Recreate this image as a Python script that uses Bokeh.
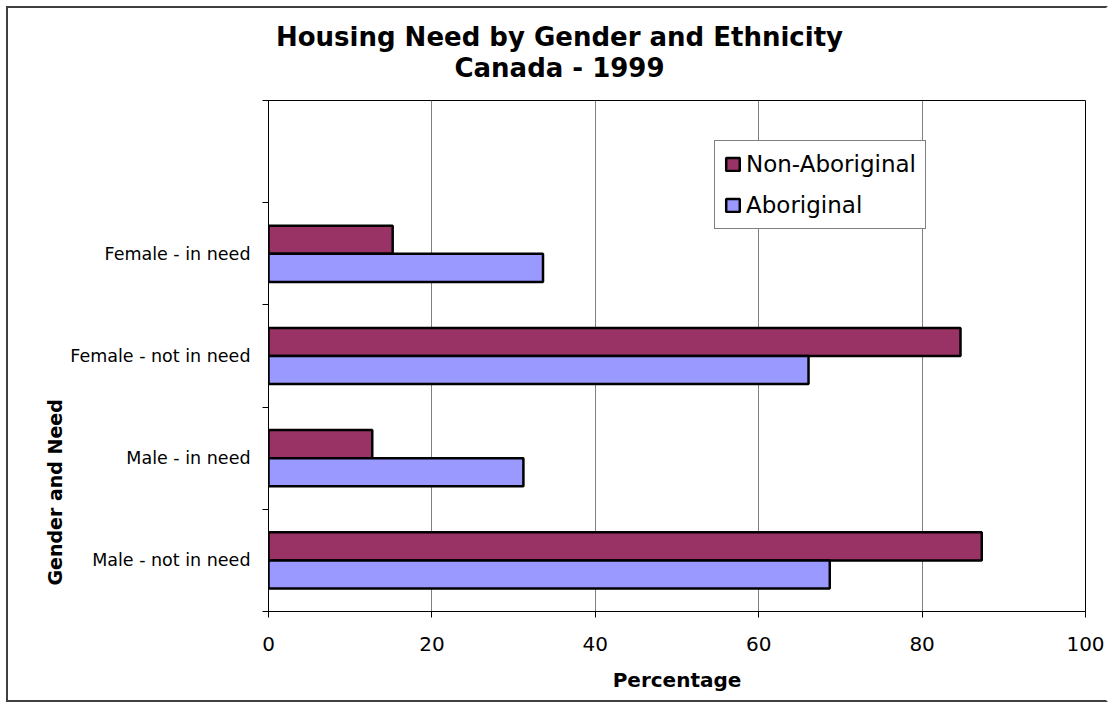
from bokeh.plotting import figure
from bokeh.layouts import column
from bokeh.models import (ColumnDataSource, FixedTicker, Label, Legend, LegendItem, Range1d, Title)
from bokeh.embed import file_html
from bokeh.resources import INLINE

# ---- data ----
categories = ["Male - not in need", "Male - in need", "Female - not in need", "Female - in need"]
aboriginal = [68.7, 31.2, 66.1, 33.6]
non_aboriginal = [87.3, 12.7, 84.7, 15.2]
series_names = ["Non-Aboriginal", "Aboriginal"]
x_ticks = [0, 20, 40, 60, 80, 100]
title_lines = ["Housing Need by Gender and Ethnicity", "Canada - 1999"]
x_title = "Percentage"
y_title = "Gender and Need"

colors = ["#993366", "#9999FF"]
FONT = "DejaVu Sans"

n_slots = len(categories) + 1  # one empty slot on top
y_centers = [i + 0.5 for i in range(len(categories))]
bar_h = 0.275

src = ColumnDataSource(dict(
    y_na=[c + bar_h / 2 for c in y_centers],
    y_a=[c - bar_h / 2 for c in y_centers],
    na=non_aboriginal,
    a=aboriginal,
))

W = 1098
HEAD_H = 88
MAIN_H = 604

# ---- header with the two title lines (pixel-space ranges) ----
head = figure(width=W, height=HEAD_H, x_range=Range1d(0, W), y_range=Range1d(0, HEAD_H),
              x_axis_location=None, y_axis_location=None, min_border=0, title=None,
              output_backend="svg", toolbar_location=None)
head.frame_align = False
head.outline_line_color = None
head.grid.visible = False
head.background_fill_color = "white"
head.border_fill_color = "white"
head.add_layout(Label(x=551, y=60, text=title_lines[0], text_align="center",
                      text_baseline="alphabetic", text_font=FONT, text_font_size="26px",
                      text_font_style="bold", text_color="black"))
head.add_layout(Label(x=551, y=29, text=title_lines[1], text_align="center",
                      text_baseline="alphabetic", text_font=FONT, text_font_size="26px",
                      text_font_style="bold", text_color="black"))

# ---- main chart ----
p = figure(width=W, height=MAIN_H, x_range=Range1d(0, 100), y_range=Range1d(0, n_slots),
           output_backend="svg", toolbar_location=None,
           min_border_left=260, min_border_right=21, min_border_top=4, min_border_bottom=89)
p.frame_align = False

r_na = p.hbar(y="y_na", left=0, right="na", height=bar_h, source=src,
              fill_color=colors[0], line_color="black", line_width=2.5)
r_a = p.hbar(y="y_a", left=0, right="a", height=bar_h, source=src,
             fill_color=colors[1], line_color="black", line_width=2.5)

p.outline_line_color = "black"
p.outline_line_width = 1
p.background_fill_color = "white"
p.border_fill_color = "white"

p.ygrid.visible = False
p.xgrid.ticker = FixedTicker(ticks=x_ticks)
p.xgrid.grid_line_color = "#808080"
p.xgrid.grid_line_width = 1

xa = p.xaxis[0]
xa.ticker = FixedTicker(ticks=x_ticks)
xa.axis_line_color = "black"
xa.major_tick_in = 0
xa.major_tick_out = 6
xa.minor_tick_in = 0
xa.minor_tick_out = 0
xa.major_tick_line_color = "black"
xa.major_label_text_font = FONT
xa.major_label_text_font_size = "20px"
xa.major_label_text_color = "black"
xa.major_label_standoff = 19
xa.axis_label = x_title
xa.axis_label_text_font = FONT
xa.axis_label_text_font_size = "20px"
xa.axis_label_text_font_style = "bold"
xa.axis_label_text_color = "black"
xa.axis_label_standoff = 14

ya = p.yaxis[0]
ya.ticker = FixedTicker(ticks=y_centers, minor_ticks=list(range(n_slots + 1)))
ya.major_label_overrides = {c: lab for c, lab in zip(y_centers, categories)}
ya.axis_line_color = "black"
ya.major_tick_in = 0
ya.major_tick_out = 0
ya.minor_tick_in = 0
ya.minor_tick_out = 6
ya.minor_tick_line_color = "black"
ya.major_label_text_font = FONT
ya.major_label_text_font_size = "17.5px"
ya.major_label_text_color = "black"
ya.major_label_standoff = 12

# y-axis title placed as a left-side title, offset from the frame bottom
p.add_layout(Title(text=y_title, align="left", vertical_align="bottom", offset=26, standoff=4,
                   text_font=FONT, text_font_size="19px", text_font_style="bold",
                   text_color="black"), "left")

legend = Legend(items=[LegendItem(label=series_names[0], renderers=[r_na]),
                       LegendItem(label=series_names[1], renderers=[r_a])],
                location=(446, 382), orientation="vertical",
                border_line_color="black", border_line_width=1,
                background_fill_color="white", background_fill_alpha=1,
                label_text_font=FONT, label_text_font_size="23px", label_text_color="black",
                glyph_width=17, glyph_height=16, label_height=28, label_standoff=5,
                spacing=13, padding=9, margin=0)
p.add_layout(legend)

layout = column(head, p, spacing=0)
layout.styles = {"margin-left": "6px", "margin-top": "6px",
                 "border-top": "2px solid #404040", "border-left": "2px solid #404040",
                 "border-bottom": "2px solid #404040", "border-right": "2px solid white"}

open("out.html", "w").write(file_html(layout, INLINE))
